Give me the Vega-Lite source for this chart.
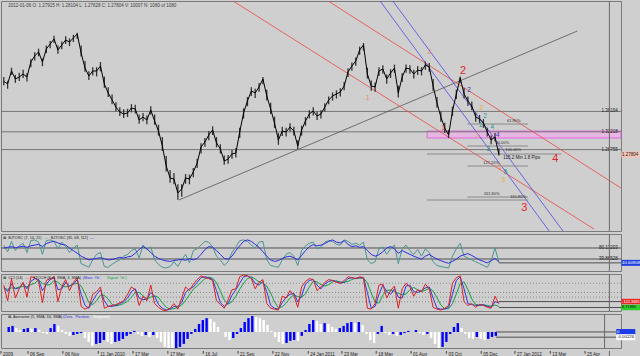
{
"$schema":"https://vega.github.io/schema/vega-lite/v6.json",
"background":"#cfcfcf",
"padding":0,
"spacing":3,
"bounds":"flush",
"config":{"view":{"stroke":"#7a7a7a","fill":"#cfcfcf"},"axis":{"labelFont":"Liberation Sans","labelFontSize":4.5,"labelColor":"#202020","tickColor":"#404040","domainColor":"#505050","tickSize":2,"labelPadding":1,"grid":false,"labelOverlap":false},"text":{"font":"Liberation Sans"}},
"datasets":{
"w":[
{"t":"2009-07-24","c":1.4201,"h":1.429,"l":1.413,"f":70,"s":62,"cci":80,"sk":60,"sd":40,"ao":0.0023,"d":"up"},
{"t":"2009-07-31","c":1.4157,"h":1.4215,"l":1.406,"f":52,"s":64,"cci":-90,"sk":10,"sd":35,"ao":0.0028,"d":"up"},
{"t":"2009-08-07","c":1.4406,"h":1.447,"l":1.433,"f":80,"s":66,"cci":150,"sk":90,"sd":50,"ao":0.0018,"d":"dn"},
{"t":"2009-08-14","c":1.425,"h":1.433,"l":1.4175,"f":55,"s":63,"cci":-60,"sk":40,"sd":45,"ao":0.0009,"d":"dn"},
{"t":"2009-08-21","c":1.4289,"h":1.437,"l":1.421,"f":68,"s":65,"cci":40,"sk":50,"sd":60,"ao":0.0014,"d":"up"},
{"t":"2009-08-28","c":1.4347,"h":1.443,"l":1.427,"f":75,"s":67,"cci":110,"sk":100,"sd":65,"ao":0.0018,"d":"up"},
{"t":"2009-09-04","c":1.4289,"h":1.436,"l":1.42,"f":50,"s":64,"cci":-50,"sk":40,"sd":60,"ao":0.0014,"d":"dn"},
{"t":"2009-09-11","c":1.4581,"h":1.464,"l":1.448,"f":82,"s":68,"cci":170,"sk":120,"sd":85,"ao":0.0018,"d":"up"},
{"t":"2009-09-18","c":1.4698,"h":1.477,"l":1.461,"f":84,"s":70,"cci":160,"sk":150,"sd":100,"ao":0.0009,"d":"dn"},
{"t":"2009-09-25","c":1.4776,"h":1.484,"l":1.469,"f":78,"s":72,"cci":120,"sk":140,"sd":135,"ao":-0.0005,"d":"dn"},
{"t":"2009-10-02","c":1.4581,"h":1.465,"l":1.45,"f":45,"s":66,"cci":-110,"sk":20,"sd":100,"ao":-0.0009,"d":"dn"},
{"t":"2009-10-09","c":1.4834,"h":1.49,"l":1.475,"f":82,"s":74,"cci":130,"sk":90,"sd":80,"ao":0.0018,"d":"up"},
{"t":"2009-10-16","c":1.4931,"h":1.499,"l":1.485,"f":84,"s":78,"cci":150,"sk":140,"sd":85,"ao":0.0037,"d":"up"},
{"t":"2009-10-23","c":1.5029,"h":1.509,"l":1.495,"f":80,"s":80,"cci":170,"sk":160,"sd":130,"ao":0.0028,"d":"dn"},
{"t":"2009-10-30","c":1.4815,"h":1.49,"l":1.474,"f":60,"s":76,"cci":-100,"sk":30,"sd":110,"ao":0.0009,"d":"dn"},
{"t":"2009-11-06","c":1.4912,"h":1.498,"l":1.483,"f":78,"s":72,"cci":60,"sk":40,"sd":75,"ao":-0.0009,"d":"dn"},
{"t":"2009-11-13","c":1.5009,"h":1.508,"l":1.493,"f":66,"s":70,"cci":140,"sk":110,"sd":60,"ao":-0.0018,"d":"dn"},
{"t":"2009-11-20","c":1.497,"h":1.504,"l":1.489,"f":50,"s":62,"cci":20,"sk":70,"sd":70,"ao":-0.0014,"d":"up"},
{"t":"2009-11-27","c":1.5048,"h":1.511,"l":1.497,"f":62,"s":55,"cci":110,"sk":90,"sd":90,"ao":-0.0009,"d":"up"},
{"t":"2009-12-04","c":1.5126,"h":1.515,"l":1.503,"f":70,"s":48,"cci":160,"sk":140,"sd":100,"ao":-0.0005,"d":"up"},
{"t":"2009-12-11","c":1.4756,"h":1.49,"l":1.469,"f":20,"s":40,"cci":-150,"sk":-20,"sd":70,"ao":-0.0028,"d":"dn"},
{"t":"2009-12-18","c":1.4464,"h":1.46,"l":1.439,"f":15,"s":35,"cci":-180,"sk":-140,"sd":-10,"ao":-0.0046,"d":"dn"},
{"t":"2009-12-25","c":1.4309,"h":1.44,"l":1.423,"f":10,"s":30,"cci":-160,"sk":-170,"sd":-110,"ao":-0.0064,"d":"dn"},
{"t":"2010-01-01","c":1.4406,"h":1.448,"l":1.432,"f":30,"s":32,"cci":-20,"sk":-90,"sd":-130,"ao":-0.0055,"d":"up"},
{"t":"2010-01-08","c":1.4406,"h":1.448,"l":1.43,"f":45,"s":34,"cci":10,"sk":-20,"sd":-90,"ao":-0.0051,"d":"up"},
{"t":"2010-01-15","c":1.4503,"h":1.458,"l":1.44,"f":50,"s":36,"cci":60,"sk":30,"sd":-30,"ao":-0.0037,"d":"up"},
{"t":"2010-01-22","c":1.4153,"h":1.43,"l":1.408,"f":12,"s":33,"cci":-170,"sk":-90,"sd":-30,"ao":-0.0046,"d":"dn"},
{"t":"2010-01-29","c":1.3978,"h":1.409,"l":1.39,"f":10,"s":30,"cci":-150,"sk":-150,"sd":-70,"ao":-0.0055,"d":"dn"},
{"t":"2010-02-05","c":1.3842,"h":1.395,"l":1.376,"f":18,"s":31,"cci":-140,"sk":-150,"sd":-130,"ao":-0.0046,"d":"up"},
{"t":"2010-02-12","c":1.3705,"h":1.38,"l":1.362,"f":25,"s":34,"cci":-130,"sk":-140,"sd":-145,"ao":-0.0041,"d":"up"},
{"t":"2010-02-19","c":1.3608,"h":1.37,"l":1.353,"f":30,"s":37,"cci":-110,"sk":-120,"sd":-135,"ao":-0.0032,"d":"up"},
{"t":"2010-02-26","c":1.3569,"h":1.366,"l":1.349,"f":40,"s":35,"cci":-90,"sk":-100,"sd":-120,"ao":-0.0018,"d":"up"},
{"t":"2010-03-05","c":1.3589,"h":1.367,"l":1.351,"f":45,"s":38,"cci":-20,"sk":-60,"sd":-95,"ao":-0.0009,"d":"up"},
{"t":"2010-03-12","c":1.3686,"h":1.376,"l":1.36,"f":55,"s":40,"cci":60,"sk":10,"sd":-50,"ao":0.0005,"d":"up"},
{"t":"2010-03-19","c":1.3666,"h":1.375,"l":1.358,"f":60,"s":48,"cci":30,"sk":40,"sd":0,"ao":-0.0009,"d":"dn"},
{"t":"2010-03-26","c":1.3452,"h":1.356,"l":1.338,"f":35,"s":58,"cci":-140,"sk":-60,"sd":0,"ao":-0.0018,"d":"dn"},
{"t":"2010-04-02","c":1.3511,"h":1.359,"l":1.343,"f":70,"s":66,"cci":-40,"sk":-80,"sd":-35,"ao":-0.0014,"d":"up"},
{"t":"2010-04-09","c":1.3452,"h":1.354,"l":1.337,"f":58,"s":60,"cci":-90,"sk":-70,"sd":-70,"ao":-0.0023,"d":"dn"},
{"t":"2010-04-16","c":1.3647,"h":1.372,"l":1.356,"f":65,"s":50,"cci":80,"sk":0,"sd":-50,"ao":-0.0014,"d":"up"},
{"t":"2010-04-23","c":1.3433,"h":1.356,"l":1.336,"f":30,"s":40,"cci":-120,"sk":-40,"sd":-35,"ao":-0.0028,"d":"dn"},
{"t":"2010-04-30","c":1.3238,"h":1.336,"l":1.315,"f":18,"s":34,"cci":-160,"sk":-130,"sd":-55,"ao":-0.0046,"d":"dn"},
{"t":"2010-05-07","c":1.2946,"h":1.312,"l":1.285,"f":10,"s":30,"cci":-190,"sk":-170,"sd":-110,"ao":-0.0069,"d":"dn"},
{"t":"2010-05-14","c":1.2557,"h":1.275,"l":1.245,"f":8,"s":27,"cci":-195,"sk":-190,"sd":-160,"ao":-0.0078,"d":"dn"},
{"t":"2010-05-21","c":1.2324,"h":1.248,"l":1.223,"f":12,"s":26,"cci":-170,"sk":-180,"sd":-180,"ao":-0.0083,"d":"dn"},
{"t":"2010-05-28","c":1.2304,"h":1.242,"l":1.22,"f":25,"s":28,"cci":-120,"sk":-150,"sd":-175,"ao":-0.0074,"d":"up"},
{"t":"2010-06-04","c":1.2032,"h":1.22,"l":1.19,"f":12,"s":30,"cci":-180,"sk":-150,"sd":-160,"ao":-0.0069,"d":"up"},
{"t":"2010-06-11","c":1.211,"h":1.22,"l":1.196,"f":30,"s":31,"cci":-60,"sk":-110,"sd":-135,"ao":-0.0055,"d":"up"},
{"t":"2010-06-18","c":1.2324,"h":1.24,"l":1.221,"f":45,"s":29,"cci":60,"sk":0,"sd":-85,"ao":-0.0032,"d":"up"},
{"t":"2010-06-25","c":1.2304,"h":1.239,"l":1.22,"f":22,"s":33,"cci":20,"sk":40,"sd":-25,"ao":-0.0009,"d":"up"},
{"t":"2010-07-02","c":1.244,"h":1.252,"l":1.234,"f":55,"s":30,"cci":90,"sk":60,"sd":35,"ao":0.0014,"d":"up"},
{"t":"2010-07-09","c":1.2616,"h":1.27,"l":1.252,"f":60,"s":34,"cci":140,"sk":110,"sd":70,"ao":0.0037,"d":"up"},
{"t":"2010-07-16","c":1.2927,"h":1.3,"l":1.28,"f":70,"s":45,"cci":180,"sk":160,"sd":110,"ao":0.0055,"d":"up"},
{"t":"2010-07-23","c":1.3024,"h":1.31,"l":1.293,"f":80,"s":58,"cci":160,"sk":170,"sd":150,"ao":0.0064,"d":"up"},
{"t":"2010-07-30","c":1.316,"h":1.324,"l":1.306,"f":78,"s":66,"cci":150,"sk":160,"sd":165,"ao":0.006,"d":"dn"},
{"t":"2010-08-06","c":1.3258,"h":1.333,"l":1.316,"f":65,"s":64,"cci":130,"sk":140,"sd":155,"ao":0.0046,"d":"dn"},
{"t":"2010-08-13","c":1.3005,"h":1.312,"l":1.292,"f":40,"s":55,"cci":-90,"sk":20,"sd":105,"ao":0.0023,"d":"dn"},
{"t":"2010-08-20","c":1.2888,"h":1.298,"l":1.28,"f":30,"s":45,"cci":-130,"sk":-110,"sd":15,"ao":0.0,"d":"dn"},
{"t":"2010-08-27","c":1.2654,"h":1.276,"l":1.258,"f":15,"s":34,"cci":-170,"sk":-150,"sd":-80,"ao":-0.0023,"d":"dn"},
{"t":"2010-09-03","c":1.2693,"h":1.277,"l":1.26,"f":25,"s":32,"cci":-80,"sk":-120,"sd":-125,"ao":-0.0037,"d":"dn"},
{"t":"2010-09-10","c":1.2791,"h":1.287,"l":1.27,"f":50,"s":40,"cci":30,"sk":-30,"sd":-100,"ao":-0.0028,"d":"up"},
{"t":"2010-09-17","c":1.281,"h":1.29,"l":1.272,"f":65,"s":55,"cci":40,"sk":30,"sd":-40,"ao":-0.0009,"d":"up"},
{"t":"2010-09-24","c":1.3219,"h":1.33,"l":1.31,"f":82,"s":68,"cci":170,"sk":100,"sd":35,"ao":0.0018,"d":"up"},
{"t":"2010-10-01","c":1.3589,"h":1.368,"l":1.348,"f":84,"s":80,"cci":190,"sk":170,"sd":100,"ao":0.0046,"d":"up"},
{"t":"2010-10-08","c":1.3822,"h":1.39,"l":1.372,"f":80,"s":84,"cci":180,"sk":180,"sd":150,"ao":0.0064,"d":"up"},
{"t":"2010-10-15","c":1.4017,"h":1.409,"l":1.392,"f":70,"s":80,"cci":150,"sk":160,"sd":170,"ao":0.0074,"d":"up"},
{"t":"2010-10-22","c":1.3978,"h":1.406,"l":1.388,"f":62,"s":72,"cci":40,"sk":100,"sd":145,"ao":0.0069,"d":"dn"},
{"t":"2010-10-29","c":1.4095,"h":1.417,"l":1.4,"f":78,"s":64,"cci":110,"sk":80,"sd":115,"ao":0.0064,"d":"dn"},
{"t":"2010-11-05","c":1.425,"h":1.4289,"l":1.415,"f":80,"s":52,"cci":140,"sk":120,"sd":100,"ao":0.0055,"d":"dn"},
{"t":"2010-11-12","c":1.3919,"h":1.404,"l":1.383,"f":30,"s":40,"cci":-120,"sk":10,"sd":70,"ao":0.0032,"d":"dn"},
{"t":"2010-11-19","c":1.3666,"h":1.379,"l":1.357,"f":15,"s":30,"cci":-170,"sk":-140,"sd":-5,"ao":0.0005,"d":"dn"},
{"t":"2010-11-26","c":1.3394,"h":1.352,"l":1.33,"f":12,"s":26,"cci":-180,"sk":-170,"sd":-100,"ao":-0.0023,"d":"dn"},
{"t":"2010-12-03","c":1.3063,"h":1.32,"l":1.297,"f":10,"s":28,"cci":-190,"sk":-180,"sd":-165,"ao":-0.0046,"d":"dn"},
{"t":"2010-12-10","c":1.3238,"h":1.332,"l":1.314,"f":30,"s":34,"cci":-40,"sk":-110,"sd":-155,"ao":-0.0055,"d":"dn"},
{"t":"2010-12-17","c":1.3219,"h":1.33,"l":1.313,"f":45,"s":38,"cci":-60,"sk":-50,"sd":-115,"ao":-0.0051,"d":"up"},
{"t":"2010-12-24","c":1.3316,"h":1.339,"l":1.323,"f":50,"s":40,"cci":20,"sk":-20,"sd":-60,"ao":-0.0041,"d":"up"},
{"t":"2010-12-31","c":1.3238,"h":1.332,"l":1.315,"f":40,"s":36,"cci":-30,"sk":-10,"sd":-25,"ao":-0.0037,"d":"up"},
{"t":"2011-01-07","c":1.2946,"h":1.306,"l":1.2888,"f":15,"s":30,"cci":-160,"sk":-100,"sd":-45,"ao":-0.0041,"d":"dn"},
{"t":"2011-01-14","c":1.3258,"h":1.334,"l":1.315,"f":55,"s":42,"cci":60,"sk":-40,"sd":-50,"ao":-0.0018,"d":"up"},
{"t":"2011-01-21","c":1.3433,"h":1.351,"l":1.334,"f":68,"s":55,"cci":120,"sk":90,"sd":-15,"ao":0.0009,"d":"up"},
{"t":"2011-01-28","c":1.3569,"h":1.364,"l":1.348,"f":75,"s":66,"cci":150,"sk":130,"sd":60,"ao":0.0037,"d":"up"},
{"t":"2011-02-04","c":1.3627,"h":1.37,"l":1.354,"f":78,"s":71,"cci":140,"sk":140,"sd":120,"ao":0.0055,"d":"up"},
{"t":"2011-02-11","c":1.353,"h":1.362,"l":1.345,"f":60,"s":68,"cci":20,"sk":80,"sd":115,"ao":0.0051,"d":"dn"},
{"t":"2011-02-18","c":1.3569,"h":1.364,"l":1.348,"f":65,"s":70,"cci":60,"sk":40,"sd":85,"ao":0.0037,"d":"dn"},
{"t":"2011-02-25","c":1.3705,"h":1.378,"l":1.362,"f":78,"s":74,"cci":110,"sk":90,"sd":70,"ao":0.0041,"d":"up"},
{"t":"2011-03-04","c":1.3842,"h":1.391,"l":1.376,"f":82,"s":80,"cci":140,"sk":120,"sd":85,"ao":0.0037,"d":"dn"},
{"t":"2011-03-11","c":1.3919,"h":1.399,"l":1.383,"f":80,"s":84,"cci":130,"sk":130,"sd":115,"ao":0.0023,"d":"dn"},
{"t":"2011-03-18","c":1.3958,"h":1.403,"l":1.387,"f":72,"s":78,"cci":110,"sk":120,"sd":125,"ao":0.0014,"d":"dn"},
{"t":"2011-03-25","c":1.3997,"h":1.407,"l":1.391,"f":70,"s":76,"cci":100,"sk":100,"sd":115,"ao":0.0018,"d":"up"},
{"t":"2011-04-01","c":1.4114,"h":1.419,"l":1.403,"f":84,"s":82,"cci":130,"sk":110,"sd":110,"ao":0.0028,"d":"up"},
{"t":"2011-04-08","c":1.4386,"h":1.446,"l":1.429,"f":80,"s":72,"cci":170,"sk":150,"sd":120,"ao":0.0041,"d":"up"},
{"t":"2011-04-15","c":1.4503,"h":1.457,"l":1.441,"f":72,"s":66,"cci":160,"sk":160,"sd":140,"ao":0.0046,"d":"up"},
{"t":"2011-04-22","c":1.46,"h":1.467,"l":1.451,"f":75,"s":68,"cci":150,"sk":150,"sd":155,"ao":0.0041,"d":"dn"},
{"t":"2011-04-29","c":1.4815,"h":1.488,"l":1.472,"f":70,"s":64,"cci":170,"sk":160,"sd":155,"ao":0.0046,"d":"up"},
{"t":"2011-05-06","c":1.4912,"h":1.4951,"l":1.48,"f":78,"s":66,"cci":160,"sk":160,"sd":155,"ao":0.0032,"d":"dn"},
{"t":"2011-05-13","c":1.4347,"h":1.447,"l":1.426,"f":30,"s":55,"cci":-170,"sk":0,"sd":105,"ao":-0.0009,"d":"dn"},
{"t":"2011-05-20","c":1.4114,"h":1.422,"l":1.402,"f":20,"s":45,"cci":-180,"sk":-170,"sd":-5,"ao":-0.0037,"d":"dn"},
{"t":"2011-05-27","c":1.4095,"h":1.418,"l":1.4,"f":25,"s":40,"cci":-120,"sk":-150,"sd":-105,"ao":-0.0051,"d":"dn"},
{"t":"2011-06-03","c":1.4406,"h":1.448,"l":1.431,"f":60,"s":44,"cci":80,"sk":-20,"sd":-115,"ao":-0.0009,"d":"up"},
{"t":"2011-06-10","c":1.4445,"h":1.452,"l":1.435,"f":65,"s":52,"cci":90,"sk":80,"sd":-30,"ao":0.0028,"d":"up"},
{"t":"2011-06-17","c":1.425,"h":1.434,"l":1.416,"f":45,"s":62,"cci":-60,"sk":10,"sd":25,"ao":-0.0005,"d":"dn"},
{"t":"2011-06-24","c":1.4367,"h":1.444,"l":1.427,"f":60,"s":66,"cci":20,"sk":-20,"sd":25,"ao":-0.0014,"d":"dn"},
{"t":"2011-07-01","c":1.4464,"h":1.453,"l":1.437,"f":70,"s":60,"cci":70,"sk":40,"sd":10,"ao":-0.0009,"d":"up"},
{"t":"2011-07-08","c":1.3978,"h":1.412,"l":1.389,"f":20,"s":48,"cci":-170,"sk":-50,"sd":-10,"ao":-0.0018,"d":"dn"},
{"t":"2011-07-15","c":1.4289,"h":1.436,"l":1.419,"f":60,"s":55,"cci":40,"sk":-60,"sd":-25,"ao":-0.0014,"d":"up"},
{"t":"2011-07-22","c":1.4464,"h":1.453,"l":1.437,"f":70,"s":50,"cci":100,"sk":70,"sd":-15,"ao":-0.0005,"d":"up"},
{"t":"2011-07-29","c":1.4445,"h":1.452,"l":1.435,"f":55,"s":45,"cci":60,"sk":80,"sd":30,"ao":0.0005,"d":"up"},
{"t":"2011-08-05","c":1.4347,"h":1.443,"l":1.426,"f":45,"s":40,"cci":-40,"sk":10,"sd":55,"ao":0.0,"d":"dn"},
{"t":"2011-08-12","c":1.4425,"h":1.45,"l":1.433,"f":58,"s":36,"cci":30,"sk":0,"sd":30,"ao":0.0009,"d":"up"},
{"t":"2011-08-19","c":1.4406,"h":1.448,"l":1.432,"f":40,"s":32,"cci":10,"sk":20,"sd":10,"ao":-0.0005,"d":"dn"},
{"t":"2011-08-26","c":1.4523,"h":1.459,"l":1.443,"f":60,"s":40,"cci":90,"sk":50,"sd":25,"ao":-0.0014,"d":"dn"},
{"t":"2011-09-02","c":1.4484,"h":1.456,"l":1.439,"f":50,"s":45,"cci":40,"sk":60,"sd":45,"ao":-0.0009,"d":"up"},
{"t":"2011-09-09","c":1.4114,"h":1.425,"l":1.402,"f":25,"s":38,"cci":-160,"sk":-60,"sd":15,"ao":-0.0028,"d":"dn"},
{"t":"2011-09-16","c":1.3783,"h":1.39,"l":1.369,"f":15,"s":32,"cci":-180,"sk":-170,"sd":-55,"ao":-0.0055,"d":"dn"},
{"t":"2011-09-23","c":1.3511,"h":1.362,"l":1.342,"f":12,"s":28,"cci":-190,"sk":-180,"sd":-135,"ao":-0.0074,"d":"dn"},
{"t":"2011-09-30","c":1.3297,"h":1.34,"l":1.32,"f":10,"s":24,"cci":-170,"sk":-180,"sd":-175,"ao":-0.0069,"d":"up"},
{"t":"2011-10-07","c":1.316,"h":1.326,"l":1.3102,"f":8,"s":21,"cci":-140,"sk":-160,"sd":-175,"ao":-0.0046,"d":"up"},
{"t":"2011-10-14","c":1.3627,"h":1.371,"l":1.353,"f":40,"s":26,"cci":100,"sk":-20,"sd":-120,"ao":-0.0009,"d":"up"},
{"t":"2011-10-21","c":1.3958,"h":1.404,"l":1.386,"f":60,"s":32,"cci":160,"sk":130,"sd":-15,"ao":0.0023,"d":"up"},
{"t":"2011-10-28","c":1.427,"h":1.43,"l":1.417,"f":75,"s":40,"cci":180,"sk":170,"sd":95,"ao":0.0041,"d":"up"},
{"t":"2011-11-04","c":1.3958,"h":1.408,"l":1.387,"f":40,"s":44,"cci":-100,"sk":40,"sd":115,"ao":0.0018,"d":"dn"},
{"t":"2011-11-11","c":1.3822,"h":1.391,"l":1.373,"f":35,"s":47,"cci":-140,"sk":-120,"sd":30,"ao":-0.0009,"d":"dn"},
{"t":"2011-11-18","c":1.3725,"h":1.381,"l":1.364,"f":30,"s":42,"cci":-120,"sk":-130,"sd":-70,"ao":-0.0028,"d":"dn"},
{"t":"2011-11-25","c":1.3511,"h":1.36,"l":1.342,"f":25,"s":36,"cci":-160,"sk":-140,"sd":-130,"ao":-0.0032,"d":"dn"},
{"t":"2011-12-02","c":1.3472,"h":1.355,"l":1.339,"f":20,"s":30,"cci":-130,"sk":-140,"sd":-135,"ao":-0.0023,"d":"up"},
{"t":"2011-12-09","c":1.3394,"h":1.347,"l":1.33,"f":15,"s":26,"cci":-140,"sk":-130,"sd":-135,"ao":-0.0032,"d":"dn"},
{"t":"2011-12-16","c":1.3219,"h":1.33,"l":1.313,"f":10,"s":22,"cci":-160,"sk":-150,"sd":-140,"ao":-0.0037,"d":"dn"},
{"t":"2011-12-23","c":1.3063,"h":1.315,"l":1.298,"f":28,"s":28,"cci":-170,"sk":-160,"sd":-150,"ao":-0.0032,"d":"up"},
{"t":"2011-12-30","c":1.3122,"h":1.32,"l":1.304,"f":62,"s":34,"cci":-40,"sk":-100,"sd":-135,"ao":-0.0023,"d":"up"},
{"t":"2012-01-06","c":1.278,"h":1.29,"l":1.276,"f":25,"s":24,"cci":-122,"sk":-110,"sd":-150,"ao":-0.0018,"d":"up"}
],
"lines":[
{"t1":"2010-06-06","p1":1.1895,"t2":"2012-05-27","p2":1.5184,"kind":"trend"},
{"t1":"2010-09-12","p1":1.5768,"t2":"2012-06-26","p2":1.1331,"kind":"red"},
{"t1":"2011-03-03","p1":1.5768,"t2":"2012-08-14","p2":1.2128,"kind":"red"},
{"t1":"2011-06-05","p1":1.5768,"t2":"2012-04-06","p2":1.1292,"kind":"blue"},
{"t1":"2011-06-28","p1":1.5768,"t2":"2012-05-01","p2":1.1292,"kind":"blue"}
],
"band":[{"t1":"2011-08-29","t2":"2012-08-14","p1":1.3238,"p2":1.3102}],
"hl":[{"p":1.3619,"txt":"1.36194"},{"p":1.3222,"txt":"1.32218"},{"p":1.2876,"txt":"1.28755"}],
"fib":[
{"t1":"2011-11-10","t2":"2012-02-28","p":1.3374},
{"t1":"2011-11-10","t2":"2012-02-28","p":1.2946},
{"t1":"2011-08-29","t2":"2012-04-28","p":1.279},
{"t1":"2011-11-10","t2":"2012-02-28","p":1.2557},
{"t1":"2011-11-10","t2":"2012-02-28","p":1.1953},
{"t1":"2011-08-29","t2":"2012-02-28","p":1.1895}
],
"fibl":[
{"t":"2012-02-02","p":1.3425,"txt":"61.80%"},
{"t":"2012-01-12","p":1.3,"txt":"50.00%"},
{"t":"2012-02-01","p":1.2866,"txt":"100.00%"},
{"t":"2011-12-23","p":1.2612,"txt":"127.20%"},
{"t":"2011-12-24","p":1.2008,"txt":"261.80%"},
{"t":"2012-02-10","p":1.1948,"txt":"161.80%"}
],
"note":[{"t":"2012-01-14","p":1.2712,"txt":"115.2 Min 1.8 Pips"}],
"waves":[
{"t":"2011-05-14","p":1.388,"txt":"1","deg":"o"},
{"t":"2011-09-02","p":1.4775,"txt":"2","deg":"o"},
{"t":"2011-11-02","p":1.4405,"txt":"2","deg":"R"},
{"t":"2011-11-13","p":1.4036,"txt":"2","deg":"b"},
{"t":"2011-12-05","p":1.3685,"txt":"2","deg":"y"},
{"t":"2011-12-12","p":1.353,"txt":"2","deg":"g"},
{"t":"2011-09-27","p":1.3296,"txt":"1","deg":"r"},
{"t":"2011-12-04","p":1.3355,"txt":"1","deg":"g"},
{"t":"2011-11-28","p":1.316,"txt":"1","deg":"y"},
{"t":"2011-12-25","p":1.3315,"txt":"4","deg":"g"},
{"t":"2012-01-04","p":1.3165,"txt":"4","deg":"b"},
{"t":"2011-12-18","p":1.2887,"txt":"3","deg":"g"},
{"t":"2012-01-08","p":1.2545,"txt":"5","deg":"o"},
{"t":"2012-01-18","p":1.2435,"txt":"5","deg":"g"},
{"t":"2012-01-14","p":1.229,"txt":"3","deg":"y"},
{"t":"2012-04-17","p":1.2693,"txt":"4","deg":"R"},
{"t":"2012-02-21","p":1.1739,"txt":"3","deg":"R"}
],
"hdr":[{"txt":"2012-01-06  O: 1.27915  H: 1.28104  L: 1.27628  C: 1.27804  V: 10007  N: 1080 of 1080"}],
"ttl":[
{"pan":"p2","t":"2009-07-22","txt":"⊠","r":"name"},
{"pan":"p2","t":"2009-08-01","txt":"BJTOSC (7, 14, 21)","r":"name"},
{"pan":"p2","t":"2009-10-05","txt":"—","r":"fast"},
{"pan":"p2","t":"2009-10-17","txt":"BJTOSC (35, 68, 112)","r":"name"},
{"pan":"p2","t":"2009-12-27","txt":"—","r":"slow"},
{"pan":"p3","t":"2009-07-22","txt":"⊠","r":"name"},
{"pan":"p3","t":"2009-08-01","txt":"CCI (14)","r":"name"},
{"pan":"p3","t":"2009-09-01","txt":"—","r":"cci"},
{"pan":"p3","t":"2009-09-15","txt":"STOCH (8, 3, SMA, 3, SMA)","r":"name"},
{"pan":"p3","t":"2009-12-14","txt":"(Main: 'Gr',","r":"slow"},
{"pan":"p3","t":"2010-01-27","txt":"Signal: 'Gr')","r":"sig"},
{"pan":"p4","t":"2009-07-22","txt":"⊠","r":"name"},
{"pan":"p4","t":"2009-08-01","txt":"Awesome (5, SMA, 34, SMA)","r":"name"},
{"pan":"p4","t":"2009-11-01","txt":"(Zero,","r":"slow"},
{"pan":"p4","t":"2009-11-24","txt":"Positive,","r":"slow"},
{"pan":"p4","t":"2009-12-27","txt":"Negative)","r":"neg"}
],
"p2h":[{"v":62.2,"txt":"80.13203"},{"v":32.4,"txt":"39.86528"}],
"p3h":[{"v":100},{"v":0},{"v":-50},{"v":-100}],
"one":[{"k":1}],
"xl":[
{"t":"2009-07-19","txt":"2009"},
{"t":"2009-09-06","txt":"06 Sep"},
{"t":"2009-11-08","txt":"06 Nov"},
{"t":"2010-01-11","txt":"11 Jan 2010"},
{"t":"2010-03-15","txt":"17 Mar"},
{"t":"2010-05-17","txt":"17 May"},
{"t":"2010-07-20","txt":"16 Jul"},
{"t":"2010-09-21","txt":"21 Sep"},
{"t":"2010-11-23","txt":"22 Nov"},
{"t":"2011-01-26","txt":"24 Jan 2011"},
{"t":"2011-03-28","txt":"23 Mar"},
{"t":"2011-05-29","txt":"18 May"},
{"t":"2011-07-31","txt":"01 Aug"},
{"t":"2011-10-03","txt":"03 Oct"},
{"t":"2011-12-05","txt":"05 Dec"},
{"t":"2012-02-04","txt":"27 Jan 2012"},
{"t":"2012-04-08","txt":"13 Mar"},
{"t":"2012-06-10","txt":"25 Apr"}
],
"tags":[
{"pan":"p1","v":1.278,"txt":"1.27804","r":"cur"},
{"pan":"p2","v":22,"txt":"40.60908","r":"blue"},
{"pan":"p3","v":-98,"txt":"-122.3685","r":"red"},
{"pan":"p3","v":-162,"txt":"8.71880","r":"green"},
{"pan":"p4","v":0,"txt":"0","r":"blue"},
{"pan":"p4","v":-0.0024,"txt":"-0.00226","r":"white"}
]
},
"vconcat":[
{
"width":620,"height":230,
"layer":[
{"data":{"name":"band"},"mark":{"type":"rect","fill":"#e8b6e2","stroke":"#e050e0","strokeWidth":0.8},
 "encoding":{"x":{"field":"t1","type":"temporal","scale":{"type":"utc","nice":false,"domain":[{"year":2009,"month":7,"date":19,"utc":true},{"year":2012,"month":8,"date":14,"utc":true}]},"axis":null},"x2":{"field":"t2"},
 "y":{"field":"p1","type":"quantitative","scale":{"domain":[1.1292,1.5768],"nice":false,"zero":false},"axis":null},"y2":{"field":"p2"}}},
{"data":{"name":"hl"},"mark":{"type":"rule","color":"#767676","strokeWidth":1},"encoding":{"y":{"field":"p","type":"quantitative","axis":null}}},
{"data":{"name":"lines"},"mark":{"type":"rule","strokeWidth":0.8,"clip":true},
 "encoding":{"x":{"field":"t1","type":"temporal","axis":null},"x2":{"field":"t2"},"y":{"field":"p1","type":"quantitative","axis":null},"y2":{"field":"p2"},
 "color":{"condition":[{"test":"datum.kind=='red'","value":"#ee4646"},{"test":"datum.kind=='blue'","value":"#4a4ae8"}],"value":"#555555"}}},
{"data":{"name":"fib"},"mark":{"type":"rule","color":"#8a8a8a","strokeWidth":1},
 "encoding":{"x":{"field":"t1","type":"temporal","axis":null},"x2":{"field":"t2"},"y":{"field":"p","type":"quantitative","axis":null}}},
{"data":{"name":"w"},"mark":{"type":"rule","color":"#333333","strokeWidth":1.3},
 "encoding":{"x":{"field":"t","type":"temporal","axis":null},"y":{"field":"l","type":"quantitative","axis":null},"y2":{"field":"h"}}},
{"data":{"name":"w"},"mark":{"type":"line","color":"#000000","strokeWidth":1},
 "encoding":{"x":{"field":"t","type":"temporal","axis":null},"y":{"field":"c","type":"quantitative","axis":{"orient":"right","title":null,"format":".4f","labelBaseline":{"condition":{"test":"datum.value > 1.57","value":"top"},"value":"middle"},"values":[1.5748,1.5599,1.5452,1.5301,1.5152,1.5003,1.4854,1.4705,1.4555,1.4407,1.4258,1.4109,1.396,1.3811,1.3662,1.3513,1.3364,1.3215,1.3066,1.2917,1.2618,1.247,1.2321,1.2172,1.2023,1.1874,1.1725,1.1576,1.1427]}}}},
{"data":{"name":"fibl"},"mark":{"type":"text","fontSize":4,"color":"#303030","align":"center","baseline":"middle"},
 "encoding":{"x":{"field":"t","type":"temporal","axis":null},"y":{"field":"p","type":"quantitative","axis":null},"text":{"field":"txt"}}},
{"data":{"name":"note"},"mark":{"type":"text","fontSize":4.5,"color":"#202020","align":"left","baseline":"middle"},
 "encoding":{"x":{"field":"t","type":"temporal","axis":null},"y":{"field":"p","type":"quantitative","axis":null},"text":{"field":"txt"}}},
{"data":{"name":"waves"},"mark":{"type":"text","align":"center","baseline":"middle"},
 "encoding":{"x":{"field":"t","type":"temporal","axis":null},"y":{"field":"p","type":"quantitative","axis":null},"text":{"field":"txt"},
 "size":{"condition":{"test":"datum.deg=='R'","value":11},"value":6.5},
 "color":{"condition":[{"test":"datum.deg=='R'","value":"#e82424"},{"test":"datum.deg=='r'","value":"#e84848"},{"test":"datum.deg=='o'","value":"#f08850"},{"test":"datum.deg=='b'","value":"#3434c8"},{"test":"datum.deg=='y'","value":"#e8b428"}],"value":"#1f8f8f"}}},
{"data":{"name":"hl"},"mark":{"type":"text","fontSize":4.5,"color":"#202020","align":"right","baseline":"middle"},
 "encoding":{"x":{"datum":{"year":2012,"month":8,"date":8,"utc":true},"type":"temporal","axis":null},"y":{"field":"p","type":"quantitative","axis":null},"text":{"field":"txt"}}},
{"data":{"name":"one"},"mark":{"type":"rule","color":"#6a6a6a","strokeWidth":1},"encoding":{"x":{"datum":{"year":2012,"month":7,"date":24,"utc":true},"type":"temporal","axis":null}}},
{"data":{"name":"hdr"},"mark":{"type":"text","fontSize":4.5,"color":"#404040","align":"left","baseline":"middle"},
 "encoding":{"x":{"datum":{"year":2009,"month":8,"date":1,"utc":true},"type":"temporal","axis":null},"y":{"datum":1.5672,"type":"quantitative","axis":null},"text":{"field":"txt"}}},
{"data":{"name":"tags"},"transform":[{"filter":"datum.pan=='p1'"}],"mark":{"type":"tick","orient":"horizontal","size":19,"thickness":6,"color":"#f6c4b6","opacity":1},
 "encoding":{"x":{"datum":{"year":2012,"month":9,"date":1,"utc":true},"type":"temporal","axis":null},"y":{"field":"v","type":"quantitative","axis":null}}},
{"data":{"name":"tags"},"transform":[{"filter":"datum.pan=='p1'"}],"mark":{"type":"text","fontSize":4.5,"color":"#202020","align":"left","baseline":"middle"},
 "encoding":{"x":{"datum":{"year":2012,"month":8,"date":16,"utc":true},"type":"temporal","axis":null},"y":{"field":"v","type":"quantitative","axis":null},"text":{"field":"txt"}}}
]
},
{
"width":620,"height":37,
"layer":[
{"data":{"name":"p2h"},"mark":{"type":"rule","color":"#505050","strokeWidth":1},
 "encoding":{"y":{"field":"v","type":"quantitative","scale":{"domain":[0,100],"nice":false},"axis":{"orient":"right","title":null,"values":[200]}}}},
{"data":{"name":"w"},"mark":{"type":"line","color":"#4a9690","strokeWidth":1},
 "encoding":{"x":{"field":"t","type":"temporal","scale":{"type":"utc","nice":false,"domain":[{"year":2009,"month":7,"date":19,"utc":true},{"year":2012,"month":8,"date":14,"utc":true}]},"axis":null},"y":{"field":"f","type":"quantitative","axis":null}}},
{"data":{"name":"w"},"mark":{"type":"line","color":"#2c2ce0","strokeWidth":1},
 "encoding":{"x":{"field":"t","type":"temporal","axis":null},"y":{"field":"s","type":"quantitative","axis":null}}},
{"data":{"name":"p2h"},"mark":{"type":"text","fontSize":4.5,"color":"#202020","align":"right","baseline":"middle"},
 "encoding":{"x":{"datum":{"year":2012,"month":8,"date":8,"utc":true},"type":"temporal","axis":null},"y":{"field":"v","type":"quantitative","axis":null},"text":{"field":"txt"}}},
{"data":{"name":"ttl"},"transform":[{"filter":"datum.pan=='p2'"}],"mark":{"type":"text","fontSize":3.8,"align":"left","baseline":"middle"},
 "encoding":{"x":{"field":"t","type":"temporal","axis":null},"y":{"datum":89,"type":"quantitative","axis":null},"text":{"field":"txt"},
 "color":{"condition":[{"test":"datum.r=='fast'","value":"#4a9690"},{"test":"datum.r=='slow'","value":"#2c2ce0"}],"value":"#1a1a1a"}}},
{"data":{"name":"tags"},"transform":[{"filter":"datum.pan=='p2'"}],"mark":{"type":"rule","color":"#505050","strokeWidth":1},
 "encoding":{"x":{"datum":{"year":2012,"month":1,"date":6,"utc":true},"type":"temporal","axis":null},"x2":{"datum":{"year":2012,"month":8,"date":14,"utc":true}},"y":{"field":"v","type":"quantitative","axis":null}}},
{"data":{"name":"tags"},"transform":[{"filter":"datum.pan=='p2'"}],"mark":{"type":"tick","orient":"horizontal","size":19,"thickness":6,"color":"#2040e0","opacity":1},
 "encoding":{"x":{"datum":{"year":2012,"month":9,"date":1,"utc":true},"type":"temporal","axis":null},"y":{"field":"v","type":"quantitative","axis":null}}},
{"data":{"name":"tags"},"transform":[{"filter":"datum.pan=='p2'"}],"mark":{"type":"text","fontSize":4.3,"color":"#ffffff","align":"left","baseline":"middle"},
 "encoding":{"x":{"datum":{"year":2012,"month":8,"date":16,"utc":true},"type":"temporal","axis":null},"y":{"field":"v","type":"quantitative","axis":null},"text":{"field":"txt"}}},
{"data":{"name":"one"},"mark":{"type":"rule","color":"#6a6a6a","strokeWidth":1},"encoding":{"x":{"datum":{"year":2012,"month":7,"date":24,"utc":true},"type":"temporal","axis":null}}}
]
},
{
"width":620,"height":37,
"layer":[
{"data":{"name":"p3h"},"mark":{"type":"rule","color":"#8c8c8c","strokeWidth":1,"strokeDash":[1,2]},
 "encoding":{"y":{"field":"v","type":"quantitative","scale":{"domain":[-200,200],"nice":false},"axis":{"orient":"right","title":null,"values":[100,0],"format":"d"}}}},
{"data":{"name":"w"},"mark":{"type":"line","color":"#10a040","strokeWidth":1},
 "encoding":{"x":{"field":"t","type":"temporal","scale":{"type":"utc","nice":false,"domain":[{"year":2009,"month":7,"date":19,"utc":true},{"year":2012,"month":8,"date":14,"utc":true}]},"axis":null},"y":{"field":"sd","type":"quantitative","axis":null}}},
{"data":{"name":"w"},"mark":{"type":"line","color":"#2c3ce0","strokeWidth":1},
 "encoding":{"x":{"field":"t","type":"temporal","axis":null},"y":{"field":"sk","type":"quantitative","axis":null}}},
{"data":{"name":"w"},"mark":{"type":"line","color":"#e02020","strokeWidth":1},
 "encoding":{"x":{"field":"t","type":"temporal","axis":null},"y":{"field":"cci","type":"quantitative","axis":null}}},
{"data":{"name":"ttl"},"transform":[{"filter":"datum.pan=='p3'"}],"mark":{"type":"text","fontSize":3.8,"align":"left","baseline":"middle"},
 "encoding":{"x":{"field":"t","type":"temporal","axis":null},"y":{"datum":160,"type":"quantitative","axis":null},"text":{"field":"txt"},
 "color":{"condition":[{"test":"datum.r=='cci'","value":"#e02020"},{"test":"datum.r=='slow'","value":"#2c2ce0"},{"test":"datum.r=='sig'","value":"#10a040"}],"value":"#1a1a1a"}}},
{"data":{"name":"tags"},"transform":[{"filter":"datum.pan=='p3'"}],"mark":{"type":"rule","color":"#505050","strokeWidth":1},
 "encoding":{"x":{"datum":{"year":2012,"month":1,"date":6,"utc":true},"type":"temporal","axis":null},"x2":{"datum":{"year":2012,"month":8,"date":14,"utc":true}},"y":{"field":"v","type":"quantitative","axis":null}}},
{"data":{"name":"tags"},"transform":[{"filter":"datum.pan=='p3'"}],"mark":{"type":"tick","orient":"horizontal","size":19,"thickness":5.5,"opacity":1},
 "encoding":{"x":{"datum":{"year":2012,"month":9,"date":1,"utc":true},"type":"temporal","axis":null},"y":{"field":"v","type":"quantitative","axis":null},
 "color":{"condition":{"test":"datum.r=='red'","value":"#e82828"},"value":"#2cd02c"}}},
{"data":{"name":"tags"},"transform":[{"filter":"datum.pan=='p3'"}],"mark":{"type":"text","fontSize":3.9,"align":"left","baseline":"middle"},
 "encoding":{"x":{"datum":{"year":2012,"month":8,"date":16,"utc":true},"type":"temporal","axis":null},"y":{"field":"v","type":"quantitative","axis":null},"text":{"field":"txt"},
 "color":{"condition":{"test":"datum.r=='red'","value":"#ffffff"},"value":"#101010"}}},
{"data":{"name":"one"},"mark":{"type":"rule","color":"#6a6a6a","strokeWidth":1},"encoding":{"x":{"datum":{"year":2012,"month":7,"date":24,"utc":true},"type":"temporal","axis":null}}}
]
},
{
"width":620,"height":34,
"layer":[
{"data":{"name":"w"},"mark":{"type":"bar","size":2.4,"clip":true},
 "encoding":{"x":{"field":"t","type":"temporal","scale":{"type":"utc","nice":false,"domain":[{"year":2009,"month":7,"date":19,"utc":true},{"year":2012,"month":8,"date":14,"utc":true}]},"axis":null},
 "y":{"field":"ao","type":"quantitative","scale":{"domain":[-0.0074,0.0083],"nice":false},"axis":{"orient":"right","title":null,"values":[0.0069],"format":".6f"}},
 "color":{"condition":{"test":"datum.d=='up'","value":"#0000ff"},"value":"#ffffff"}}},
{"data":{"name":"ttl"},"transform":[{"filter":"datum.pan=='p4'"}],"mark":{"type":"text","fontSize":3.8,"align":"left","baseline":"middle"},
 "encoding":{"x":{"field":"t","type":"temporal","axis":null},"y":{"datum":0.0068,"type":"quantitative","axis":null},"text":{"field":"txt"},
 "color":{"condition":[{"test":"datum.r=='slow'","value":"#2c2ce0"},{"test":"datum.r=='neg'","value":"#ffffff"}],"value":"#1a1a1a"}}},
{"data":{"name":"tags"},"transform":[{"filter":"datum.pan=='p4'"}],"mark":{"type":"rule","color":"#505050","strokeWidth":1},
 "encoding":{"x":{"datum":{"year":2012,"month":1,"date":6,"utc":true},"type":"temporal","axis":null},"x2":{"datum":{"year":2012,"month":8,"date":14,"utc":true}},"y":{"field":"v","type":"quantitative","axis":null}}},
{"data":{"name":"tags"},"transform":[{"filter":"datum.pan=='p4'"}],"mark":{"type":"tick","orient":"horizontal","size":19,"thickness":6,"opacity":1},
 "encoding":{"x":{"datum":{"year":2012,"month":9,"date":1,"utc":true},"type":"temporal","axis":null},"y":{"field":"v","type":"quantitative","axis":null},
 "color":{"condition":{"test":"datum.r=='blue'","value":"#1c3ce8"},"value":"#ffffff"}}},
{"data":{"name":"tags"},"transform":[{"filter":"datum.pan=='p4'"}],"mark":{"type":"text","fontSize":4.3,"align":"left","baseline":"middle"},
 "encoding":{"x":{"datum":{"year":2012,"month":8,"date":16,"utc":true},"type":"temporal","axis":null},"y":{"field":"v","type":"quantitative","axis":null},"text":{"field":"txt"},
 "color":{"condition":{"test":"datum.r=='blue'","value":"#ffffff"},"value":"#101010"}}},
{"data":{"name":"one"},"mark":{"type":"rule","color":"#6a6a6a","strokeWidth":1},"encoding":{"x":{"datum":{"year":2012,"month":7,"date":24,"utc":true},"type":"temporal","axis":null}}}
]
},
{
"width":620,"height":6,
"view":{"stroke":null,"fill":"#cfcfcf"},
"layer":[
{"data":{"name":"xl"},"mark":{"type":"rule","color":"#404040","strokeWidth":1},
 "encoding":{"x":{"field":"t","type":"temporal","scale":{"type":"utc","nice":false,"domain":[{"year":2009,"month":7,"date":19,"utc":true},{"year":2012,"month":8,"date":14,"utc":true}]},"axis":null},
 "y":{"datum":1,"type":"quantitative","scale":{"domain":[0,1],"nice":false},"axis":null},"y2":{"datum":0.55}}},
{"data":{"name":"xl"},"mark":{"type":"text","fontSize":4.5,"color":"#202020","align":"left","baseline":"middle","dx":2},
 "encoding":{"x":{"field":"t","type":"temporal","axis":null},"y":{"datum":0.4,"type":"quantitative","axis":null},"text":{"field":"txt"}}},
{"data":{"name":"one"},"mark":{"type":"rule","color":"#6a6a6a","strokeWidth":1},"encoding":{"x":{"datum":{"year":2012,"month":7,"date":24,"utc":true},"type":"temporal","axis":null}}}
]
}
]
}
